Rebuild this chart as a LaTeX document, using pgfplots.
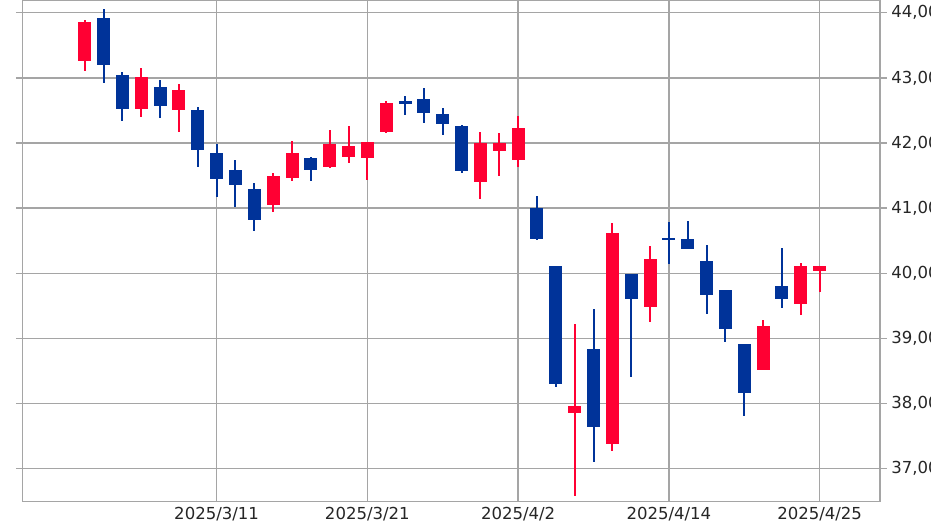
\documentclass[border=0pt]{standalone}
\usepackage{fontspec}
\setmainfont{DejaVu Sans}
\usepackage{pgfplots}
\pgfplotsset{compat=1.18}
\usepackage{pgfplotstable}

\definecolor{upred}{RGB}{255,0,51}
\definecolor{downblue}{RGB}{0,51,153}
\definecolor{gridgray}{RGB}{165,165,165}

% daily candles: x = trading day index (0 = 2025/2/28), open high low close
\pgfplotstableread{
x  o     h     l     c
0  43262 43890 43108 43851
3  42523 43158 42405 43010
5  42503 42903 42174 42815
10 41046 41543 40934 41497
11 41456 42031 41420 41851
13 41626 42200 41610 41990
14 41779 42267 41687 41959
15 41764 42010 41431 42010
16 42174 42651 42160 42610
21 41395 42164 41134 42005
22 41877 42149 41497 42005
23 41738 42415 41626 42236
26 37857 39215 36585 37969
28 37380 40774 37266 40620
30 39482 40415 39251 40226
36 38508 39277 38508 39189
38 39523 40159 39354 40113
39 40031 40113 39712 40113
}\upcandles

\pgfplotstableread{
x  o     h     l     c
1  43918 44057 42918 43195
2  43036 43092 42338 42523
4  42857 42969 42380 42565
6  42513 42559 41626 41897
7  41841 41990 41174 41441
8  41585 41733 41010 41354
9  41292 41380 40651 40815
12 41774 41790 41415 41585
17 42651 42723 42431 42595
18 42672 42841 42313 42456
19 42441 42543 42123 42292
20 42267 42280 41533 41574
24 40995 41180 40518 40533
25 40113 40113 38251 38303
27 38841 39446 37097 37636
29 39995 39995 38405 39600
31 40545 40780 40149 40520
32 40523 40805 40374 40374
33 40185 40441 39380 39662
34 39738 39738 38943 39138
35 38908 38908 37815 38165
37 39805 40389 39472 39600
}\downcandles

\begin{document}
\begin{tikzpicture}
\begin{axis}[
    at={(0,0)}, anchor=south west,
    scale only axis, width=643.1pt, height=375.9pt,
    xmin=-3.3, xmax=42.2, ymin=36493, ymax=44187,
    axis line style={gridgray, line width=1.1pt},
    grid=major, major grid style={gridgray, line width=1.1pt},
    xtick={7,15,23,31,39},
    xticklabels={2025/3/11,2025/3/21,2025/4/2,2025/4/14,2025/4/25},
    ytick={37000,38000,...,44000},
    scaled y ticks=false,
    yticklabel pos=right,
    tick align=outside, major tick length=5pt,
    xtick style={draw=none},
    ytick style={gridgray, line width=1.1pt},
    tick label style={font=\fontsize{12.4}{14}\selectfont, text=black!85},
    xticklabel style={yshift=4.5pt},
    yticklabel style={/pgf/number format/.cd, fixed, 1000 sep={,}, assume math mode=true},
]
% wicks
\addplot[draw=none, error bars/.cd, y dir=both, y explicit, error mark=none,
  error bar style={draw=upred, line width=1.5pt}]
  table[x=x, y expr={(\thisrow{h}+\thisrow{l})/2}, y error expr={(\thisrow{h}-\thisrow{l})/2}] {\upcandles};
\addplot[draw=none, error bars/.cd, y dir=both, y explicit, error mark=none,
  error bar style={draw=downblue, line width=1.5pt}]
  table[x=x, y expr={(\thisrow{h}+\thisrow{l})/2}, y error expr={(\thisrow{h}-\thisrow{l})/2}] {\downcandles};
% bodies
\addplot[draw=none, error bars/.cd, y dir=both, y explicit, error mark=none,
  error bar style={draw=upred, line width=9.75pt}]
  table[x=x, y expr={(\thisrow{o}+\thisrow{c})/2}, y error expr={abs(\thisrow{c}-\thisrow{o})/2}] {\upcandles};
\addplot[draw=none, error bars/.cd, y dir=both, y explicit, error mark=none,
  error bar style={draw=downblue, line width=9.75pt}]
  table[x=x, y expr={(\thisrow{o}+\thisrow{c})/2}, y error expr={abs(\thisrow{o}-\thisrow{c})/2}] {\downcandles};
\end{axis}
\pgfresetboundingbox
\useasboundingbox (-16.9pt,-22pt) rectangle (681.4pt,376.3pt);
\end{tikzpicture}
\end{document}
